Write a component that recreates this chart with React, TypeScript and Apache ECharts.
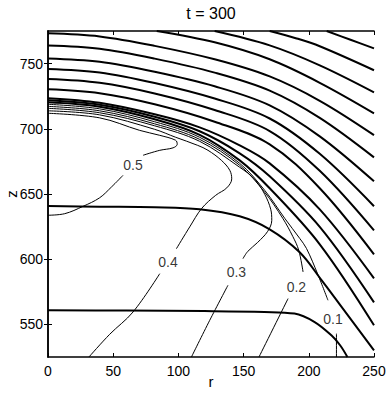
import React, { useEffect, useRef } from 'react';
import * as echarts from 'echarts';

const SANS = "'Liberation Sans', Arial, Helvetica, sans-serif";

const titleText = 't = 300';
const xName = 'r';
const yName = 'z';
const xRange = [0, 250];
const yRange = [525, 775];
const yTicks = [550, 600, 650, 700, 750];

// thick contour family (outer arcs entering from the top border)
const arcT4 = [[213.7, 775], [232, 768.3], [250, 761.7]];
const arcT3 = [[170, 775], [190, 769.5], [208.4, 763.3], [250, 744.9]];
const arcT2 = [[127.8, 775], [170, 764], [208.4, 748.7], [250, 728]];
const arcT1 = [[83.4, 775], [127.8, 766.3], [170, 753.3], [208.4, 735.3], [250, 711.9]];
// thick arcs starting on the axis r = 0
const arcA1 = [[0, 773.2], [39.6, 770.8], [81.8, 763.6], [127.8, 753.3], [170, 740.2], [208.4, 721.5], [250, 695.2]];
const arcA2 = [[0, 763.8], [39.6, 761.3], [81.8, 753.8], [127.8, 743.1], [170, 729.3], [208.4, 708.4], [250, 678.1]];
const arcA3 = [[0, 754.0], [39.6, 751.4], [81.8, 743.7], [127.8, 732.6], [170, 718.0], [208.4, 694.2], [250, 659.7]];
const arcA4 = [[0, 745.9], [39.6, 743.2], [81.8, 735.1], [127.8, 723.2], [170, 707.9], [208.4, 680.8], [250, 640.6]];
const arcA5 = [[0, 738.2], [39.6, 735.3], [81.8, 727.1], [127.8, 714.4], [170, 698.3], [208.4, 667.8], [250, 622.1]];
const arcA6 = [[0, 730.3], [39.6, 727.3], [81.8, 718.8], [127.8, 705.4], [170, 688.1], [208.4, 654.4], [250, 603.7]];
const arcA7 = [[0, 723.4], [39.6, 719.9], [81.8, 711.1], [116.3, 701.1], [147, 687.3], [170, 673.5], [208.4, 638.2], [250, 585.3]];
const arcA8 = [[0, 721.8], [39.6, 718.4], [81.8, 709.2], [116.3, 698.1], [147, 681.2], [170, 663.6], [208.4, 624.8], [250, 566.9]];
const arcA9 = [[0, 720.3], [39.6, 716.9], [81.8, 707.3], [116.3, 695.4], [147, 675.8], [170, 654.4], [208.4, 611.4], [250, 549.3]];
// thick near-horizontal lines
const line640 = [[0, 640.8], [39.6, 640.3], [81.8, 639.8], [116.3, 638.3], [147, 632.9], [170, 622.9], [193, 605.3], [209.9, 583.8], [223.7, 565.4], [250, 530.1]];
const line560 = [[0, 560.8], [60, 560.6], [120, 560.2], [166, 559.5], [189, 558.3], [204.5, 551.8], [217.3, 541.6], [224, 534], [229.6, 525]];

// thin labelled contours (split where the label sits)
const c01a = [[0, 718.8], [39.6, 715.3], [81.8, 705.4], [116.3, 693.5], [147, 673.5], [166.2, 652.8], [181.5, 631.4], [193, 616.0], [198.2, 608.3], [206.9, 588.4], [214.7, 568.5]];
const c01b = [[221.2, 542.9], [221.2, 525]];
const c02a = [[0, 717.2], [39.6, 713.8], [81.8, 703.8], [116.3, 691.9], [147, 672.0], [166.2, 651.3], [180, 631.4], [187.7, 617.5], [192.3, 606.8], [195.6, 590.2]];
const c02b = [[184.1, 569.8], [161.8, 525]];
const c03a = [[0, 715.7], [39.6, 712.3], [81.8, 702.3], [116.3, 690.4], [147, 670.5], [158.5, 661.3], [166.2, 649.8], [170.8, 638.3], [171.6, 629.8], [168.5, 621.4], [160.8, 612.9], [153.2, 606.0], [149.5, 600.4]];
const c03b = [[138.0, 580.0], [124.0, 553.1], [110.0, 525]];
const c04a = [[31.4, 525], [47.3, 542.4], [65.2, 559.5], [85.7, 588.9]];
const c04b = [[98.5, 608.1], [108.7, 624.8], [117.9, 639.0], [128.6, 649.0], [137.1, 654.7], [140.9, 661.6], [139.4, 668.2], [133.0, 675.8], [122.7, 683.5], [114.8, 687.3], [97.9, 693.5], [81.8, 699.6], [39.6, 710.7], [0, 713.8]];
const c05a = [[0, 633.7], [12.8, 634.9], [26.8, 640.5], [39.6, 647.1], [48.6, 655.3], [57.5, 664.3]];
const c05b = [[72.9, 679.7], [85.7, 683.5], [95.9, 685.4], [99.1, 688.1], [97.9, 691.2], [85.7, 695.0], [70.3, 698.8], [39.6, 708.4], [0, 711.9]];

const labelText = ['0.5', '0.4', '0.3', '0.2', '0.1'];
const labelR = [65.2, 92, 144.5, 190.5, 218.6];
const labelZ = [672, 598, 590.2, 578.7, 554.4];

const thickLines = [arcT4, arcT3, arcT2, arcT1, arcA1, arcA2, arcA3, arcA4, arcA5, arcA6, arcA7, arcA8, arcA9, line640, line560];
const thinLines = [c01a, c01b, c02a, c02b, c03a, c03b, c04a, c04b, c05a, c05b];

function lineSeries(data: number[][], width: number) {
  return {
    type: 'line',
    data,
    smooth: 0.35,
    symbol: 'none',
    silent: true,
    clip: true,
    xAxisIndex: 0,
    yAxisIndex: 0,
    lineStyle: { color: '#000', width },
  };
}

export default function App() {
  const ref = useRef<HTMLDivElement>(null);
  useEffect(() => {
    const chart = echarts.init(ref.current as HTMLDivElement, null, { renderer: 'svg' });
    const axisLine = { show: true, lineStyle: { color: '#000', width: 1.5 } };
    const tick = { show: true, inside: true, length: 4, lineStyle: { color: '#000', width: 1 } };
    const option: any = {
      animation: false,
      backgroundColor: '#fff',
      textStyle: { fontFamily: SANS },
      grid: { left: 48, top: 31, width: 326, height: 326, containLabel: false, outerBoundsMode: 'none' },
      graphic: [
        {
          type: 'text',
          x: 211,
          y: 13,
          style: { text: titleText, fill: '#000', font: `16px ${SANS}`, textAlign: 'center', textVerticalAlign: 'middle' },
        },
        {
          type: 'text',
          x: 211,
          y: 381,
          style: { text: xName, fill: '#000', font: `15px ${SANS}`, textAlign: 'center', textVerticalAlign: 'middle' },
        },
        {
          type: 'text',
          x: 11,
          y: 194,
          rotation: Math.PI / 2,
          style: { text: yName, fill: '#000', font: `15px ${SANS}`, textAlign: 'center', textVerticalAlign: 'middle' },
        },
      ],
      xAxis: [
        {
          type: 'value', min: xRange[0], max: xRange[1], interval: 50, position: 'bottom',
          axisLine, axisTick: tick, splitLine: { show: false },
          axisLabel: { color: '#000', fontSize: 14, margin: 7, fontFamily: SANS },
        },
        {
          type: 'value', min: xRange[0], max: xRange[1], interval: 50, position: 'top',
          axisLine, axisTick: tick, splitLine: { show: false }, axisLabel: { show: false },
        },
      ],
      yAxis: [
        {
          type: 'value', min: yRange[0], max: yRange[1], position: 'left',
          axisLine, axisTick: { ...tick, customValues: yTicks }, splitLine: { show: false },
          axisLabel: { color: '#000', fontSize: 14, margin: 5, fontFamily: SANS, customValues: yTicks },
        },
        {
          type: 'value', min: yRange[0], max: yRange[1], position: 'right',
          axisLine, axisTick: { ...tick, customValues: yTicks }, splitLine: { show: false },
          axisLabel: { show: false, customValues: yTicks },
        },
      ],
      series: [
        ...thickLines.map((d) => lineSeries(d, 2)),
        ...thinLines.map((d) => lineSeries(d, 1)),
        {
          type: 'scatter',
          silent: true,
          symbolSize: 1,
          itemStyle: { color: 'rgba(0,0,0,0)' },
          data: labelText.map((t, i) => [labelR[i], labelZ[i], t]),
          label: {
            show: true,
            position: 'inside',
            formatter: (p: any) => p.value[2],
            color: '#000',
            fontSize: 14,
            fontFamily: SANS,
          },
        },
      ],
    };
    chart.setOption(option);
    return () => chart.dispose();
  }, []);
  return (
    <div
      ref={ref}
      style={{ position: 'absolute', left: 0, top: 0, width: 391, height: 395, background: '#fff' }}
    />
  );
}
